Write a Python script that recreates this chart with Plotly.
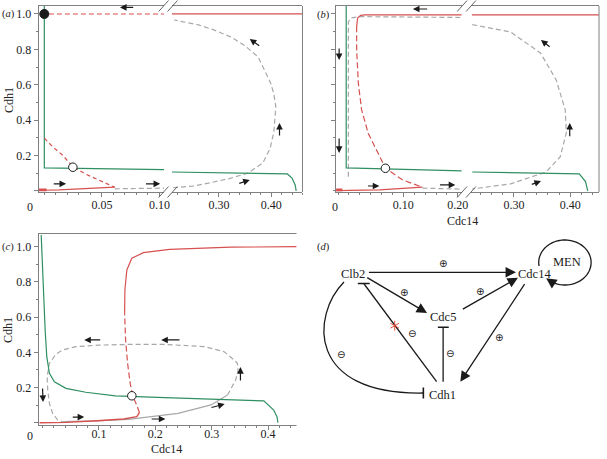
import numpy as np
import plotly.graph_objects as go

W, H = 607, 459
RED = "#d6514f"
GREEN = "#2f8f62"
GRAY = "#a8a8a8"
FRAME = "#808080"
INK = "#1a1a1a"
SERIF = "Liberation Serif, Times New Roman, Tinos, DejaVu Serif, serif"

# ---------------- Panel (a) data ----------------
a_green_L_x = [0.0, 0.0, 0.104]
a_green_L_y = [1.06, 0.13, 0.12]
a_green_R_x = [0.21, 0.30, 0.40, 0.431, 0.440, 0.446, 0.448]
a_green_R_y = [0.107, 0.104, 0.099, 0.096, 0.073, 0.034, 0.0]
a_red_top_L_x = [0.004, 0.104]
a_red_top_L_y = [1.0, 1.0]
a_red_top_R_x = [0.21, 0.46]
a_red_top_R_y = [1.0, 1.0]
a_red_mid_x = [0.0001, 0.0072, 0.0157, 0.0248, 0.0356, 0.047, 0.0555, 0.0612]
a_red_mid_y = [0.298, 0.250, 0.203, 0.137, 0.096, 0.062, 0.038, 0.021]
a_red_low_x = [0.0612, 0.0325, 0.0129, 0.0001, -0.005]
a_red_low_y = [0.021, 0.011, 0.006, 0.004, 0.003]
a_red_foot_x = [-0.005, 0.002]
a_red_foot_y = [0.006, 0.006]
a_gray_L_x = [0.0612, 0.08, 0.104]
a_gray_L_y = [0.012, 0.013, 0.016]
a_gray_R_x = [0.212, 0.25, 0.28, 0.32, 0.355, 0.384, 0.398, 0.405, 0.409,
              0.405, 0.399, 0.375, 0.35, 0.323, 0.29, 0.261, 0.214]
a_gray_R_y = [0.018, 0.027, 0.044, 0.07, 0.10, 0.158, 0.24, 0.33, 0.475,
              0.55, 0.61, 0.757, 0.82, 0.870, 0.91, 0.938, 0.966]
a_stable = ([0.0], [1.0])
a_unstable = ([0.0248], [0.134])
# arrows: (x_tail, y_tail, x_head, y_head, segment)
a_arrows = [
    (0.0785, 1.037, 0.0657, 1.037, "L"),
    (0.0069, 0.040, 0.0189, 0.040, "L"),
    (0.087, 0.040, 0.1006, 0.040, "L"),
    (0.380, 0.814, 0.359, 0.859, "R"),
    (0.416, 0.305, 0.416, 0.384, "R"),
    (0.336, 0.040, 0.359, 0.062, "R"),
]

# ---------------- Panel (b) data ----------------
b_green_L_x = [-0.005, -0.005, 0.21]
b_green_L_y = [1.06, 0.13, 0.113]
b_green_R_x = [0.226, 0.30, 0.40, 0.416, 0.427, 0.431]
b_green_R_y = [0.107, 0.103, 0.098, 0.096, 0.053, 0.0]
b_gray_L_x = [-0.001, -0.001, 0.004, 0.018, 0.21]
b_gray_L_y = [0.08, 0.955, 0.977, 0.985, 0.98]
b_gray_bot_x = [0.135, 0.17, 0.21]
b_gray_bot_y = [0.016, 0.012, 0.010]
b_gray_R_x = [0.226, 0.294, 0.347, 0.375, 0.391, 0.393, 0.382, 0.357, 0.294, 0.226]
b_gray_R_y = [0.94, 0.898, 0.78, 0.627, 0.458, 0.328, 0.192, 0.107, 0.040, 0.011]
b_red_top_x = [0.0142, 0.016, 0.0215, 0.029, 0.21]
b_red_top_y = [0.93, 0.977, 0.992, 0.995, 0.995]
b_red_top_R_x = [0.225, 0.451]
b_red_top_R_y = [0.995, 0.995]
b_red_mid_x = [0.0142, 0.0142, 0.0173, 0.0233, 0.0354, 0.0535, 0.0673, 0.0988, 0.135]
b_red_mid_y = [0.93, 0.797, 0.608, 0.458, 0.326, 0.213, 0.128, 0.062, 0.021]
b_red_low_x = [0.135, 0.0565, 0.0, -0.0236]
b_red_low_y = [0.021, 0.006, 0.003, 0.001]
b_red_foot_x = [-0.0236, -0.012]
b_red_foot_y = [0.006, 0.006]
b_unstable = ([0.067], [0.128])
b_arrows = [
    (0.1465, 1.028, 0.1175, 1.028, "L"),
    (0.0323, 0.028, 0.0559, 0.028, "L"),
    (0.1646, 0.034, 0.1954, 0.034, "L"),
    (-0.018, 0.814, -0.018, 0.740, "L"),
    (-0.018, 0.305, -0.018, 0.215, "L"),
    (0.366, 0.808, 0.348, 0.853, "R"),
    (0.399, 0.300, 0.399, 0.384, "R"),
    (0.329, 0.034, 0.348, 0.056, "R"),
]

# ---------------- Panel (c) data ----------------
c_green_x = [-0.0023, -0.0005, 0.0018, 0.0047, 0.0076, 0.0123, 0.0211, 0.0416,
             0.0767, 0.1293, 0.2170, 0.3339, 0.3924, 0.41, 0.4158, 0.4175]
c_green_y = [1.066, 0.906, 0.716, 0.527, 0.375, 0.281, 0.233, 0.195,
             0.173, 0.153, 0.142, 0.129, 0.124, 0.072, 0.034, 0.0]
c_red_low_x = [-0.0052, 0.0416, 0.097, 0.1439, 0.1672, 0.1719]
c_red_low_y = [0.0, 0.002, 0.011, 0.021, 0.034, 0.057]
c_red_mid_x = [0.1719, 0.1672, 0.1602, 0.1555, 0.1509, 0.1474, 0.1456]
c_red_mid_y = [0.057, 0.100, 0.148, 0.224, 0.337, 0.470, 0.622]
c_red_top_x = [0.1456, 0.1461, 0.1496, 0.1584, 0.1788, 0.2256, 0.3339, 0.4509]
c_red_top_y = [0.622, 0.754, 0.868, 0.934, 0.966, 0.985, 0.997, 1.0]
c_gray_solid_x = [0.0356, 0.097, 0.1526, 0.2404, 0.2988, 0.3281]
c_gray_solid_y = [0.006, 0.010, 0.019, 0.053, 0.101, 0.157]
c_gray_dash_x = [0.3281, 0.3426, 0.3468, 0.3456, 0.3398, 0.3222, 0.2871, 0.2170,
                 0.1585, 0.1000, 0.0591, 0.0357, 0.024, 0.0123, 0.0083, 0.0093,
                 0.0123, 0.018, 0.0269, 0.0356]
c_gray_dash_y = [0.157, 0.243, 0.299, 0.338, 0.356, 0.403, 0.432, 0.445,
                 0.445, 0.441, 0.432, 0.413, 0.390, 0.338, 0.261, 0.186,
                 0.110, 0.053, 0.015, 0.006]
c_unstable = ([0.1584], [0.153])
c_arrows = [
    (0.105, 0.47, 0.074, 0.47),
    (0.2456, 0.47, 0.2105, 0.47),
    (0.351, 0.231, 0.351, 0.316),
    (0.0, 0.203, 0.001, 0.118),
    (0.051, 0.032, 0.074, 0.032),
    (0.191, 0.021, 0.218, 0.021),
    (0.297, 0.084, 0.323, 0.106),
]

# ---------------- Panel (d) diagram (panel pixel space) ----------------
nodes = {"Clb2": (357, 274), "Cdc14": (541, 274), "Cdc5": (448, 317),
         "Cdh1": (448, 395), "MEN": (574, 262)}
activations = [  # tail -> head, sign label position
    ((371.7, 272.3), (522, 272.3), (448, 263)),
    ((370, 276.7), (432, 313), (409, 292)),
    ((466.7, 310), (524, 277.7), (486, 291)),
    ((531.7, 282.7), (465.7, 381.7), (505, 337)),
]
inhibitions = [  # line start, line end, bar ends, sign label position
    ((441.7, 381.7), (368, 283.5), ((362, 283.5), (374, 283.5)), (417, 333)),
    ((448.3, 381.7), (448.3, 327.3), ((443, 327.3), (454, 327.3)), (455, 353)),
]
curved_inhibition = "M 348,282 C 315,315 310,395 428,393"
curved_bar = ((428.3, 387.5), (428.3, 398.5))
curved_sign = (345, 354)
men_loop = dict(cx=571.5, cy=262.5, rx=26.5, ry=22.5, start=171, end=128 + 360)
men_arrow = ((559, 282.6), (552.5, 278.3))
blocked = (399.3, 325.7)

fig = go.Figure()


def line(x, y, xa, ya, color, dash="solid", width=1.2):
    fig.add_trace(go.Scatter(x=x, y=y, xaxis=xa, yaxis=ya, mode="lines",
                             line=dict(color=color, width=width, dash=dash),
                             hoverinfo="skip", showlegend=False))


def point(xy, xa, ya, filled):
    fig.add_trace(go.Scatter(x=xy[0], y=xy[1], xaxis=xa, yaxis=ya, mode="markers",
                             marker=dict(size=9 if filled else 8.5,
                                         color=INK if filled else "white",
                                         line=dict(color=INK, width=1)),
                             hoverinfo="skip", showlegend=False, cliponaxis=False))


def arrow(xt, yt, xh, yh, xa, ya, size=1.1, width=1.2):
    fig.add_annotation(x=xh, y=yh, ax=xt, ay=yt, xref=xa, yref=ya, axref=xa, ayref=ya,
                       text="", showarrow=True, arrowhead=2, arrowsize=size,
                       arrowwidth=width, arrowcolor=INK, standoff=0, startstandoff=0)


D1 = "5px,3px"
# panel a
line(a_gray_L_x, a_gray_L_y, "x", "y", GRAY, D1)
line(a_gray_R_x, a_gray_R_y, "x2", "y", GRAY, D1)
line(a_green_L_x, a_green_L_y, "x", "y", GREEN)
line(a_green_R_x, a_green_R_y, "x2", "y", GREEN)
line(a_red_top_L_x, a_red_top_L_y, "x", "y", RED, D1, 1.1)
line(a_red_top_R_x, a_red_top_R_y, "x2", "y", RED)
line(a_red_mid_x, a_red_mid_y, "x", "y", RED, "4px,3px")
line(a_red_low_x, a_red_low_y, "x", "y", RED)
line(a_red_foot_x, a_red_foot_y, "x", "y", RED, width=2.6)
point(a_stable, "x", "y", True)
point(a_unstable, "x", "y", False)
for xt, yt, xh, yh, seg in a_arrows:
    arrow(xt, yt, xh, yh, "x" if seg == "L" else "x2", "y")

# panel b
line(b_gray_L_x, b_gray_L_y, "x3", "y2", GRAY, D1)
line(b_gray_bot_x, b_gray_bot_y, "x3", "y2", GRAY, D1)
line(b_gray_R_x, b_gray_R_y, "x4", "y2", GRAY, D1)
line(b_green_L_x, b_green_L_y, "x3", "y2", GREEN)
line(b_green_R_x, b_green_R_y, "x4", "y2", GREEN)
line(b_red_top_x, b_red_top_y, "x3", "y2", RED)
line(b_red_top_R_x, b_red_top_R_y, "x4", "y2", RED)
line(b_red_mid_x, b_red_mid_y, "x3", "y2", RED, "6px,3px")
line(b_red_low_x, b_red_low_y, "x3", "y2", RED)
line(b_red_foot_x, b_red_foot_y, "x3", "y2", RED, width=2.6)
point(b_unstable, "x3", "y2", False)
for xt, yt, xh, yh, seg in b_arrows:
    arrow(xt, yt, xh, yh, "x3" if seg == "L" else "x4", "y2")

# panel c
line(c_gray_solid_x, c_gray_solid_y, "x5", "y3", GRAY)
line(c_gray_dash_x, c_gray_dash_y, "x5", "y3", GRAY, D1)
line(c_green_x, c_green_y, "x5", "y3", GREEN)
line(c_red_low_x, c_red_low_y, "x5", "y3", RED, width=1.4)
line(c_red_mid_x, c_red_mid_y, "x5", "y3", RED, "6px,3px")
line(c_red_top_x, c_red_top_y, "x5", "y3", RED)
point(c_unstable, "x5", "y3", False)
for xt, yt, xh, yh in c_arrows:
    arrow(xt, yt, xh, yh, "x5", "y3")


def dx(px):
    return px / W


def dy(py):
    return 1 - py / H


TICKFONT = dict(family=SERIF, size=12, color="#222")
MINOR = dict(ticks="outside", ticklen=2, tickcolor=FRAME, tick0=0, showgrid=False)


def xax(dom, rng, anchor, tv, labels, minor_dtick, standoff=-2):
    return dict(domain=[dx(dom[0]), dx(dom[1])], range=rng, anchor=anchor,
                tickvals=tv, ticktext=labels, ticklabelstandoff=standoff,
                ticks="outside", ticklen=4, tickwidth=1, tickcolor=FRAME,
                showline=True, linecolor=FRAME, linewidth=1, mirror=True,
                showgrid=False, zeroline=False, tickfont=TICKFONT,
                minor=dict(MINOR, dtick=minor_dtick))


def yax(dom, rng, anchor, labels, mirror=False):
    return dict(domain=[dy(dom[0]), dy(dom[1])], range=rng, anchor=anchor,
                tickvals=[0, 0.2, 0.4, 0.6, 0.8, 1.0],
                ticktext=["", "0.2", "0.4", "0.6", "0.8", "1.0"],
                showticklabels=labels, ticks="outside", ticklen=4, tickwidth=1,
                tickcolor=FRAME, showline=True, linecolor=FRAME, linewidth=1,
                mirror=mirror, showgrid=False, zeroline=False, tickfont=TICKFONT,
                minor=dict(MINOR, dtick=0.1))


layout = dict(
    width=W, height=H, margin=dict(l=0, r=0, t=0, b=0),
    paper_bgcolor="white", plot_bgcolor="white", showlegend=False,
    xaxis=xax((39, 166), [-0.005, 0.104], "y", [0.05, 0.10], ["0.05", "0.10"], 0.01),
    xaxis2=xax((174, 306), [0.21, 0.46], "y", [0.30, 0.40], ["0.30", "0.40"], 0.02),
    yaxis=yax((192, 6), [-0.006, 1.045], "x", True),
    xaxis3=xax((340, 467), [-0.0236, 0.207], "y2", [0.10, 0.20], ["0.10", "0.20"], 0.02),
    xaxis4=xax((477, 606), [0.2246, 0.451], "y2", [0.30, 0.40], ["0.30", "0.40"], 0.02),
    yaxis2=yax((192, 6), [-0.006, 1.045], "x3", False),
    xaxis5=xax((39, 306), [-0.007, 0.461], "y3", [0.1, 0.2, 0.3, 0.4],
               ["0.1", "0.2", "0.3", "0.4"], 0.02, standoff=-6),
    yaxis3=yax((425, 234), [-0.013, 1.072], "x5", True, mirror=True),
    xaxis6=dict(domain=[dx(300), 1], range=[300, 607], anchor="y4", visible=False),
    yaxis4=dict(domain=[0, dy(230)], range=[459, 230], anchor="x6", visible=False),
)
fig.update_layout(**layout)

shapes = []
# right frame edges of the broken panels
for px in (306, 606):
    shapes.append(dict(type="line", xref="paper", yref="paper", x0=dx(px), x1=dx(px),
                       y0=dy(192), y1=dy(6), line=dict(color=FRAME, width=1)))
# axis break marks
for cx in (170, 472):
    for yy in (6, 192):
        for off in (-4.5, 4.5):
            shapes.append(dict(type="line", xref="paper", yref="paper",
                               x0=dx(cx + off - 5), y0=dy(yy + 5.5),
                               x1=dx(cx + off + 5), y1=dy(yy - 5.5),
                               line=dict(color="#555", width=0.9)))

# diagram
DL = dict(color=INK, width=1.3)
for (s, e, bar, sign) in inhibitions:
    shapes.append(dict(type="line", xref="x6", yref="y4", x0=s[0], y0=s[1], x1=e[0], y1=e[1], line=DL))
    shapes.append(dict(type="line", xref="x6", yref="y4", x0=bar[0][0], y0=bar[0][1],
                       x1=bar[1][0], y1=bar[1][1], line=dict(color=INK, width=1.6)))
shapes.append(dict(type="path", xref="x6", yref="y4", path=curved_inhibition, line=DL))
shapes.append(dict(type="line", xref="x6", yref="y4", x0=curved_bar[0][0], y0=curved_bar[0][1],
                   x1=curved_bar[1][0], y1=curved_bar[1][1], line=dict(color=INK, width=1.6)))
th = np.radians(np.linspace(men_loop["start"], men_loop["end"], 80))
px_ = men_loop["cx"] + men_loop["rx"] * np.cos(th)
py_ = men_loop["cy"] + men_loop["ry"] * np.sin(th)
path = "M " + " L ".join("%.2f,%.2f" % (a, b) for a, b in zip(px_, py_))
shapes.append(dict(type="path", xref="x6", yref="y4", path=path, line=DL))
# red "blocked" asterisk
for ang in (90, 30, 150):
    r = np.radians(ang)
    shapes.append(dict(type="line", xref="x6", yref="y4",
                       x0=blocked[0] - 5 * np.cos(r), y0=blocked[1] - 5 * np.sin(r),
                       x1=blocked[0] + 5 * np.cos(r), y1=blocked[1] + 5 * np.sin(r),
                       line=dict(color="#e04030", width=0.9)))
fig.update_layout(shapes=shapes)

for (t, h, sign) in activations:
    fig.add_annotation(x=h[0], y=h[1], ax=t[0], ay=t[1], xref="x6", yref="y4",
                       axref="x6", ayref="y4", text="", showarrow=True, arrowhead=2,
                       arrowsize=1.6, arrowwidth=1.3, arrowcolor=INK, standoff=0)
    fig.add_annotation(x=sign[0], y=sign[1], xref="x6", yref="y4", text="⊕", showarrow=False,
                       font=dict(family="DejaVu Sans", size=10, color=INK))
for (s, e, bar, sign) in inhibitions:
    fig.add_annotation(x=sign[0], y=sign[1], xref="x6", yref="y4", text="⊖", showarrow=False,
                       font=dict(family="DejaVu Sans", size=10, color=INK))
fig.add_annotation(x=curved_sign[0], y=curved_sign[1], xref="x6", yref="y4", text="⊖",
                   showarrow=False, font=dict(family="DejaVu Sans", size=10, color=INK))
fig.add_annotation(x=men_arrow[1][0], y=men_arrow[1][1], ax=men_arrow[0][0], ay=men_arrow[0][1],
                   xref="x6", yref="y4", axref="x6", ayref="y4", text="", showarrow=True,
                   arrowhead=2, arrowsize=1.6, arrowwidth=1.3, arrowcolor=INK, standoff=0)
for name, (nx, ny) in nodes.items():
    fig.add_annotation(x=nx, y=ny, xref="x6", yref="y4", text=name, showarrow=False,
                       font=dict(family=SERIF, size=12.5, color=INK))


def ptext(px, py, text, size=12, angle=0, xanchor="center"):
    fig.add_annotation(x=dx(px), y=dy(py), xref="paper", yref="paper", text=text,
                       showarrow=False, textangle=angle, xanchor=xanchor, yanchor="middle",
                       font=dict(family=SERIF, size=size, color="#222"))


ptext(0, 14, "(<i>a</i>)", size=10.5, xanchor="left")
ptext(319, 15, "(<i>b</i>)", size=10.5, xanchor="left")
ptext(0, 247, "(<i>c</i>)", size=10.5, xanchor="left")
ptext(319, 247, "(<i>d</i>)", size=10.5, xanchor="left")
ptext(9, 100, "Cdh1", angle=-90)
ptext(8, 330, "Cdh1", angle=-90)
ptext(468, 221, "Cdc14")
ptext(168, 449, "Cdc14")
ptext(30, 207, "0")
ptext(339, 207, "0")
ptext(30, 436, "0")

fig.write_html("out.html", config={"displayModeBar": False},
               post_script="document.body.style.margin='0';document.body.style.padding='0';")
